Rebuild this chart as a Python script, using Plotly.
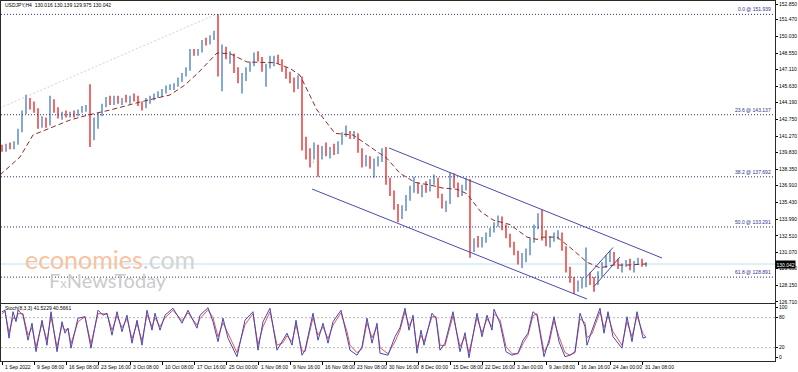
import plotly.graph_objects as go

# ---------------- data ----------------
# candles: each aggregates ~4 H4 bars; x = bar position on the chart
bar_x = [4 * i + 2 for i in range(162)]
first_open = 140.2
high = [140.5,140.6,140.7,140.8,141.9,143.5,144.9,144.6,144.3,143.7,
        143.0,142.9,144.8,144.5,143.8,143.4,143.5,143.4,143.5,143.6,
        143.9,144.0,145.8,142.9,143.3,144.1,144.7,144.8,144.8,144.8,
        144.6,144.9,144.8,145.0,144.8,144.3,144.6,144.8,145.0,145.2,
        145.4,145.7,145.8,145.9,146.4,146.8,147.3,148.9,148.9,148.9,
        149.7,149.9,150.1,150.5,151.94,149.3,149.1,148.7,148.5,147.3,
        146.8,147.3,147.8,148.6,148.7,148.2,147.6,148.3,148.3,148.4,
        148.0,147.3,146.9,146.4,146.6,146.5,141.2,140.2,140.7,140.5,
        140.4,140.7,140.3,140.6,140.8,141.6,142.2,141.7,141.7,141.5,
        140.2,139.6,139.5,139.3,139.5,140.2,140.3,137.6,136.5,135.3,
        135.2,136.1,136.9,137.7,137.2,137.0,137.3,137.5,137.9,137.6,
        136.2,135.6,138.1,138.0,137.2,137.0,137.6,137.5,132.3,132.5,
        132.4,132.8,133.2,133.7,134.3,134.2,133.5,132.7,132.0,131.2,
        131.0,131.4,132.3,133.5,134.5,134.8,133.0,132.5,132.8,133.0,
        132.8,131.6,129.8,128.9,128.6,128.9,131.5,129.3,128.9,129.4,
        130.2,130.8,131.2,131.1,130.5,130.1,130.4,130.5,130.3,130.6,
        130.5,130.2]
low = [139.9,139.9,140.1,140.1,140.5,141.6,143.2,143.6,143.3,141.9,
       142.0,142.0,142.2,143.3,142.8,142.7,142.9,142.9,142.9,143.0,
       143.3,143.4,140.3,140.9,141.9,143.0,143.8,144.0,144.0,144.1,
       144.0,144.2,144.1,144.3,143.9,143.5,143.7,144.1,144.4,144.6,
       144.7,145.0,145.3,145.3,145.6,146.0,146.5,147.0,148.3,148.3,
       148.6,149.2,149.3,149.7,146.5,145.2,148.0,147.6,146.8,145.9,
       145.0,146.1,146.9,147.4,147.8,146.9,145.6,147.2,147.4,147.6,
       146.9,146.3,145.9,145.1,145.4,140.0,139.2,138.5,139.2,137.7,
       139.2,139.5,139.3,139.6,139.7,140.5,141.2,141.0,141.0,139.8,
       138.5,138.6,138.4,137.6,138.6,139.0,137.0,136.0,134.8,133.7,
       134.0,134.7,135.6,136.3,136.2,135.9,136.3,136.4,137.0,135.8,
       134.9,134.6,135.3,136.7,135.9,136.0,136.5,130.6,131.1,131.5,
       131.5,131.9,132.4,132.8,133.3,133.0,132.3,131.5,130.8,130.0,
       129.7,130.2,130.8,131.9,133.1,132.1,131.6,131.5,132.0,132.2,
       131.2,129.3,128.4,127.4,127.6,127.9,128.0,128.2,127.6,128.2,
       129.0,129.7,130.2,130.0,129.6,129.3,129.8,129.5,129.3,130.0,
       129.8,129.8]
close = [140.1,140.4,140.3,140.6,141.8,143.3,144.3,144.0,143.6,142.2,
         142.7,142.3,144.3,143.5,143.0,143.2,143.1,143.3,143.1,143.5,
         143.6,143.8,141.2,142.3,143.1,144.0,144.5,144.3,144.6,144.3,
         144.5,144.4,144.7,144.5,144.1,143.8,144.4,144.6,144.8,145.0,
         145.2,145.5,145.6,145.7,146.2,146.6,147.1,148.6,148.5,148.7,
         149.5,149.4,149.9,150.3,147.5,148.8,148.3,148.4,147.0,146.2,
         146.3,147.1,147.6,148.4,148.0,147.2,147.4,147.8,148.0,147.9,
         147.1,146.6,146.1,145.5,146.3,140.5,139.6,139.0,140.4,139.3,
         140.1,139.8,140.2,139.9,140.6,141.4,141.5,141.3,141.5,140.0,
         139.0,139.2,138.8,139.0,139.3,139.7,137.4,136.2,135.0,134.3,
         134.9,135.8,136.6,136.8,136.5,136.7,136.6,137.3,137.5,136.0,
         135.3,135.4,137.8,137.0,136.2,136.8,137.3,131.2,132.0,131.8,
         132.2,132.6,133.0,133.5,133.8,133.2,132.5,131.8,131.0,130.4,
         130.6,130.9,132.1,133.3,134.3,132.6,132.0,132.3,132.6,132.7,
         131.5,129.6,128.7,127.9,128.3,128.6,128.7,128.5,128.4,129.2,
         129.9,130.5,130.9,130.2,129.8,129.9,130.2,129.8,130.2,130.3,
         129.9,130.04]
open_ = [first_open] + close[:-1]

# slow moving average (dashed)
ma_x = [0,20,33,48,70,88,110,140,170,185,198,217,230,247,262,275,290,300,317,
        335,353,370,387,400,415,430,443,457,467,480,493,510,527,537,543,557,
        570,587,600,613,627,647]
ma_y = [137.85,139.43,141.36,141.89,142.67,143.11,143.55,144.25,144.87,145.75,
        146.8,148.55,148.5,147.76,147.76,147.7,147.2,146.6,143.55,141.5,141.36,
        140.3,139.3,138.0,137.2,136.97,136.7,136.6,136.2,134.7,133.9,133.5,
        132.4,132.2,132.4,132.4,131.5,130.2,129.7,129.95,129.95,130.05]

# fibonacci levels
fib_names = ["0.0", "23.6", "38.2", "50.0", "61.8"]
fib_levels = [151.939, 143.137, 137.692, 133.291, 128.891]
last_price = 130.042

# stochastic
st_x = [2,5,9,13,16,18,23,28,32,36,42,47,51,57,62,65,68,71,78,85,91,98,103,107,
        112,117,122,127,132,137,142,147,152,155,160,165,173,182,188,197,200,208,
        213,218,223,228,237,245,253,258,263,270,277,283,287,292,296,302,305,313,
        318,323,328,333,341,347,350,357,362,367,372,377,380,388,395,400,405,409,
        413,417,421,424,432,436,440,445,453,460,465,469,477,482,487,492,494,500,
        506,512,518,523,528,533,537,544,549,554,559,565,570,575,580,585,587,592,
        597,600,604,608,613,622,627,632,637,643,646]
st_main = [92,95,39,92,72,95,85,35,69,12,75,25,92,12,72,49,59,19,79,82,19,95,85,
           89,45,92,52,85,29,75,25,95,55,89,55,85,99,69,95,59,85,100,72,32,79,39,
           2,75,92,15,72,99,15,35,49,25,75,5,15,89,35,69,29,72,95,42,15,5,22,79,
           29,69,9,5,42,60,99,55,85,9,55,25,89,79,15,29,92,12,50,0,89,42,85,55,
           97,69,12,5,9,35,49,92,85,2,35,82,32,2,5,12,89,62,25,55,82,99,49,92,42,
           19,82,32,92,39,41.5229]
st_signal = [88,93,50,80,78,88,88,45,60,22,68,35,82,22,65,55,58,28,72,82,28,88,88,
             87,55,84,60,78,38,68,34,86,62,80,62,80,95,74,90,65,78,96,80,42,70,48,
             10,66,88,26,62,92,25,30,44,32,66,14,12,80,45,62,38,65,90,52,25,10,18,
             70,40,62,20,8,32,55,92,64,78,20,45,32,82,82,25,24,84,22,42,10,80,50,
             78,62,88,76,22,8,8,28,45,84,88,12,28,74,42,10,5,10,78,70,40,48,75,92,
             60,84,52,25,72,42,84,48,40.5661]

# axis labels
price_ticks = [152.850,151.470,150.030,148.550,147.110,145.630,144.190,142.750,
               141.270,139.830,138.350,136.910,135.430,133.990,132.510,131.070,
               129.630,128.150,126.710]
date_pos = [2 + 32 * k for k in range(21)]
date_labels = ["1 Sep 2022","9 Sep 08:00","16 Sep 08:00","23 Sep 16:00","3 Oct 08:00",
               "10 Oct 08:00","17 Oct 16:00","25 Oct 00:00","1 Nov 08:00","9 Nov 16:00",
               "16 Nov 08:00","23 Nov 08:00","30 Nov 16:00","8 Dec 00:00","15 Dec 08:00",
               "22 Dec 16:00","3 Jan 00:00","9 Jan 08:00","16 Jan 16:00","24 Jan 00:00",
               "31 Jan 08:00"]

# drawn objects (price coordinates)
fib_trend = [(0, 143.73), (216, 151.94)]
channel_upper = [(389, 140.22), (662, 130.57)]
channel_lower = [(312, 136.62), (587, 126.97)]
mini_ch1 = [(587, 128.95), (613, 131.49)]
mini_ch2 = [(594, 128.07), (620, 130.66)]

# ---------------- styling ----------------
UP = "#86a9d4"
DN = "#ee6c6c"
NAVY = "#2e2e8e"
FONT = "Liberation Sans"
FS = 5
XR = [1, 775]
MAIN_DOM = [0.1611, 1.0]
ST_DOM = [0.0, 0.1583]

fig = go.Figure()

fig.add_trace(go.Ohlc(
    x=bar_x, open=open_, high=high, low=low, close=close,
    increasing=dict(line=dict(color=UP, width=2)),
    decreasing=dict(line=dict(color=DN, width=2)),
    tickwidth=0.15, showlegend=False, hoverinfo="skip",
    xaxis="x", yaxis="y"))

fig.add_trace(go.Scatter(
    x=ma_x, y=ma_y, mode="lines",
    line=dict(color="#8c2a2a", width=1, dash="5px,3px"),
    showlegend=False, hoverinfo="skip", xaxis="x", yaxis="y"))

fig.add_trace(go.Scatter(
    x=st_x, y=st_signal, mode="lines",
    line=dict(color="#e25858", width=1),
    showlegend=False, hoverinfo="skip", xaxis="x2", yaxis="y2"))
fig.add_trace(go.Scatter(
    x=st_x, y=st_main, mode="lines",
    line=dict(color="#4646b8", width=1),
    showlegend=False, hoverinfo="skip", xaxis="x2", yaxis="y2"))

shapes = []
# current price line
shapes.append(dict(type="line", xref="x", yref="y", x0=XR[0], x1=XR[1],
                   y0=last_price, y1=last_price,
                   line=dict(color="#bfe0ee", width=1), layer="below"))
# fib levels
for lv in fib_levels:
    shapes.append(dict(type="line", xref="x", yref="y", x0=XR[0], x1=XR[1],
                       y0=lv, y1=lv, line=dict(color=NAVY, width=1, dash="1px,2px")))
# fib trend line
shapes.append(dict(type="line", xref="x", yref="y",
                   x0=fib_trend[0][0], y0=fib_trend[0][1],
                   x1=fib_trend[1][0], y1=fib_trend[1][1],
                   line=dict(color="#e2cdd4", width=1, dash="2px,2px"), layer="below"))
for seg in (channel_upper, channel_lower, mini_ch1, mini_ch2):
    shapes.append(dict(type="line", xref="x", yref="y",
                       x0=seg[0][0], y0=seg[0][1], x1=seg[1][0], y1=seg[1][1],
                       line=dict(color="#4a4aaa", width=1)))
# stochastic levels
for lv in (80, 20):
    shapes.append(dict(type="line", xref="x2", yref="y2", x0=XR[0], x1=XR[1],
                       y0=lv, y1=lv, line=dict(color="#b8b8b8", width=1, dash="2px,2px"),
                       layer="below"))

ann = []
ann.append(dict(xref="x", yref="y", x=3, y=152.75, xanchor="left", yanchor="middle",
                text="USDJPY,H4  130.016 130.139 129.975 130.042", showarrow=False,
                font=dict(family=FONT, size=FS, color="#000000")))
for nm, lv in zip(fib_names, fib_levels):
    ann.append(dict(xref="x", yref="y", x=773, y=lv, xanchor="right", yanchor="bottom",
                    text=f"{nm} @ {lv:.3f}", showarrow=False,
                    font=dict(family=FONT, size=FS, color=NAVY)))
ann.append(dict(xref="paper", yref="y", x=1, y=last_price, xanchor="left",
                yanchor="middle", xshift=0, text=f"{last_price:.3f}", showarrow=False,
                bgcolor="#000000", borderpad=0.5,
                font=dict(family=FONT, size=FS, color="#ffffff")))
ann.append(dict(xref="x2", yref="y2", x=3, y=100, xanchor="left", yanchor="middle",
                text="Stoch(8,3,3) 41.5229 40.5661", showarrow=False,
                font=dict(family=FONT, size=FS, color="#000000")))
for p, lab in zip(date_pos, date_labels):
    ann.append(dict(xref="x2", yref="paper", x=p + 1, y=0, xanchor="left", yanchor="top",
                    yshift=-1, text=lab, showarrow=False,
                    font=dict(family=FONT, size=FS, color="#000000")))
# watermark
ann.append(dict(xref="x", yref="y", x=110, y=130.5, xanchor="center", yanchor="middle",
                text="<span style='color:#f8c2a0'>economies</span><span style='color:#d4d4d4'>.com</span>",
                showarrow=False, font=dict(family="Lato", size=25)))
ann.append(dict(xref="x", yref="y", x=108, y=128.6, xanchor="center", yanchor="middle",
                text="F<span style='font-size:13px'>x</span>NewsToday",
                showarrow=False, font=dict(family="Lato", size=20, color="#cbcbcb")))

axis_line = dict(showline=True, mirror=True, linecolor="#2a2a2a", linewidth=1,
                 showgrid=False, zeroline=False, automargin=False)

fig.update_layout(
    width=798, height=372,
    margin=dict(l=1, r=23, t=1, b=11, pad=0, autoexpand=False),
    paper_bgcolor="#ffffff", plot_bgcolor="#ffffff",
    showlegend=False, hovermode=False,
    shapes=shapes, annotations=ann,
    xaxis=dict(domain=[0, 1], anchor="y", range=XR, showticklabels=False,
               rangeslider=dict(visible=False), **axis_line),
    yaxis=dict(domain=MAIN_DOM, anchor="x", side="right",
               range=[126.621, 153.113], tickvals=price_ticks,
               ticktext=[f"{v:.3f}" for v in price_ticks],
               ticks="outside", ticklen=2, tickcolor="#000000", ticklabelstandoff=0,
               tickfont=dict(family=FONT, size=FS, color="#000000"), **axis_line),
    xaxis2=dict(domain=[0, 1], anchor="y2", range=XR, tickvals=date_pos,
                ticktext=[""] * len(date_pos), ticks="outside", ticklen=3,
                tickcolor="#000000", **axis_line),
    yaxis2=dict(domain=ST_DOM, anchor="x2", side="right", range=[-6.6, 107.4],
                tickvals=[0, 20, 80, 100], ticktext=["0", "20", "80", "100"],
                ticks="outside", ticklen=2, tickcolor="#000000", ticklabelstandoff=0,
                tickfont=dict(family=FONT, size=FS, color="#000000"), **axis_line),
)

fig.write_html("out.html",
               config={"displayModeBar": False},
               post_script="document.body.style.margin='0';document.body.style.padding='0';")
